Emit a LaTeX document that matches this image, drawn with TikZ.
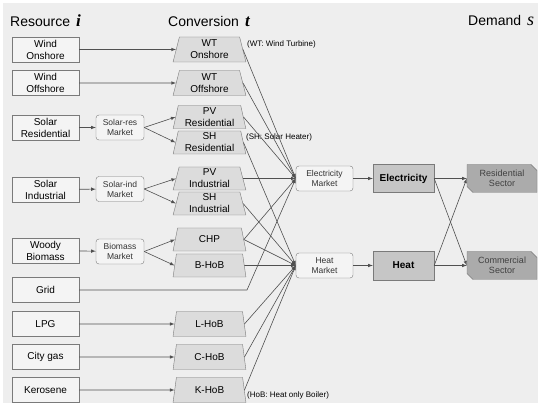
\documentclass[tikz,border=0pt]{standalone}
\usepackage{fontspec}
\setmainfont{Liberation Sans}
\newfontfamily\idxfont{Liberation Serif}
\usetikzlibrary{shapes.geometric, shapes.misc, arrows}

\definecolor{bggray}{HTML}{EEEEEE}
\definecolor{edgegray}{HTML}{7A7A7A}
\definecolor{boxfill}{HTML}{F4F4F4}
\definecolor{convfill}{HTML}{DCDCDC}
\definecolor{carrierfill}{HTML}{C6C6C6}
\definecolor{sectorfill}{HTML}{ABABAB}
\definecolor{linegray}{HTML}{505050}

\tikzstyle{resource} = [rectangle, minimum width=67pt, minimum height=25pt, text centered, align=center, inner sep=0pt, draw=edgegray, fill=boxfill, font=\fontsize{10}{12}\selectfont]
\tikzstyle{market} = [rectangle, rounded corners=3pt, minimum width=48pt, minimum height=25pt, text centered, align=center, inner sep=0pt, draw=edgegray, fill=boxfill, text=black!80, font=\fontsize{8.5}{10}\selectfont]
\tikzstyle{conversion} = [trapezium, trapezium stretches=true, trapezium left angle=78, trapezium right angle=78, minimum width=73pt, minimum height=23pt, text centered, align=center, inner sep=0pt, draw=edgegray, fill=convfill, font=\fontsize{10}{12}\selectfont]
\tikzstyle{carrier} = [rectangle, minimum width=61pt, minimum height=28pt, text centered, draw=edgegray, fill=carrierfill, font=\bfseries\fontsize{10}{12}\selectfont]
\tikzstyle{sector} = [chamfered rectangle, chamfered rectangle corners={north east, south west}, chamfered rectangle xsep=3pt, chamfered rectangle ysep=3pt, minimum width=70pt, minimum height=28pt, inner sep=0pt, text centered, align=center, draw=edgegray, fill=sectorfill, text=black!75, font=\fontsize{9}{10.5}\selectfont]
\tikzstyle{header} = [anchor=base west, inner sep=0pt, font=\fontsize{14}{16}\selectfont]
\tikzstyle{note} = [anchor=west, inner sep=0pt, font=\fontsize{8}{10}\selectfont]
\tikzstyle{arrow} = [draw=linegray, line width=0.6pt, ->, >=latex]

\begin{document}
\begin{tikzpicture}[x=1pt, y=1pt]
    \useasboundingbox (0,0) rectangle (538,403);
    \fill [bggray] (3,0) rectangle (538,400);

    % Headers
    \node (reshead) [header] at (10,376.5) {Resource\hspace{6pt}{\idxfont\itshape\bfseries\fontsize{17}{17}\selectfont i}};
    \node (convhead) [header] at (168,376.5) {Conversion\hspace{6pt}{\idxfont\itshape\bfseries\fontsize{17}{17}\selectfont t}};
    \node (demhead) [header] at (468,377.5) {Demand\hspace{6pt}{\idxfont\itshape\fontsize{18}{18}\selectfont s}};

    % Resources
    \node (windon) [resource] at (45.5,353.5) {Wind\\Onshore};
    \node (windoff) [resource] at (45.5,320) {Wind\\Offshore};
    \node (solarres) [resource] at (45.5,275.5) {Solar\\Residential};
    \node (solarind) [resource] at (45.5,213.5) {Solar\\Industrial};
    \node (woody) [resource] at (45.5,152.5) {Woody\\Biomass};
    \node (grid) [resource] at (45.5,113) {Grid};
    \node (lpg) [resource] at (45.5,79) {LPG};
    \node (citygas) [resource] at (45.5,46) {City gas};
    \node (kerosene) [resource] at (45.5,13) {Kerosene};

    % Resource markets
    \node (solresmkt) [market] at (120,275.5) {Solar-res\\Market};
    \node (solindmkt) [market] at (120,214) {Solar-ind\\Market};
    \node (biomkt) [market] at (120,151.5) {Biomass\\Market};

    % Conversion
    \node (wton) [conversion, minimum height=25pt] at (209.5,353.5) {WT\\Onshore};
    \node (wtoff) [conversion, minimum height=25pt] at (209.5,320) {WT\\Offshore};
    \node (pvres) [conversion] at (209.5,286) {PV\\Residential};
    \node (shres) [conversion] at (209.5,260.5) {SH\\Residential};
    \node (pvind) [conversion] at (209.5,224.5) {PV\\Industrial};
    \node (shind) [conversion] at (209.5,199.5) {SH\\Industrial};
    \node (chp) [conversion] at (209.5,163.5) {CHP};
    \node (bhob) [conversion] at (209.5,137.5) {B-HoB};
    \node (lhob) [conversion, minimum height=25pt] at (209.5,79) {L-HoB};
    \node (chob) [conversion, minimum height=25pt] at (209.5,46) {C-HoB};
    \node (khob) [conversion, minimum height=25pt] at (209.5,13) {K-HoB};
    \coordinate (gridbend) at (247,113);

    % Notes
    \node (wtnote) [note] at (247,358.5) {(WT: Wind Turbine)};
    \node (shnote) [note] at (246,266) {(SH: Solar Heater)};
    \node (hobnote) [note] at (247,8) {(HoB: Heat only Boiler)};

    % Energy markets and carriers
    \node (elecmkt) [market, minimum width=57pt] at (324.5,224.5) {Electricity\\Market};
    \node (heatmkt) [market, minimum width=57pt] at (324.5,137.5) {Heat\\Market};
    \node (elec) [carrier] at (403.5,224.5) {Electricity};
    \node (heat) [carrier, minimum height=29pt] at (403.5,137.5) {Heat};

    % Demand
    \node (ressector) [sector] at (502,224.5) {Residential\\Sector};
    \node (comsector) [sector] at (502,137.5) {Commercial\\Sector};

    % Arrows
    \draw [arrow] (windon) -- (wton);
    \draw [arrow] (windoff) -- (wtoff);
    \draw [arrow] (solarres) -- (solresmkt);
    \draw [arrow] (solarind) -- (solindmkt);
    \draw [arrow] (woody) -- (biomkt);
    \draw [arrow] (lpg) -- (lhob);
    \draw [arrow] (citygas) -- (chob);
    \draw [arrow] (kerosene) -- (khob);
    \draw [arrow] (solresmkt.east) -- (pvres.west);
    \draw [arrow] (solresmkt.east) -- (shres.west);
    \draw [arrow] (solindmkt.east) -- (pvind.west);
    \draw [arrow] (solindmkt.east) -- (shind.west);
    \draw [arrow] (biomkt.east) -- (chp.west);
    \draw [arrow] (biomkt.east) -- (bhob.west);

    \draw [arrow] (wton.east) -- (elecmkt.west);
    \draw [arrow] (wtoff.east) -- (elecmkt.west);
    \draw [arrow] (pvres.east) -- (elecmkt.west);
    \draw [arrow] (pvind.east) -- (elecmkt.west);
    \draw [arrow] (chp.east) -- (elecmkt.west);
    \draw [arrow] (grid.east) -- (gridbend) -- (elecmkt.west);
    \draw [arrow] (shres.east) -- (heatmkt.west);
    \draw [arrow] (shind.east) -- (heatmkt.west);
    \draw [arrow] (chp.east) -- (heatmkt.west);
    \draw [arrow] (bhob.east) -- (heatmkt.west);
    \draw [arrow] (lhob.east) -- (heatmkt.west);
    \draw [arrow] (chob.east) -- (heatmkt.west);
    \draw [arrow] (khob.east) -- (heatmkt.west);

    \draw [arrow] (elecmkt) -- (elec);
    \draw [arrow] (heatmkt) -- (heat);
    \draw [arrow] (elec.east) -- (ressector.west);
    \draw [arrow] (elec.east) -- (comsector.west);
    \draw [arrow] (heat.east) -- (ressector.west);
    \draw [arrow] (heat.east) -- (comsector.west);
\end{tikzpicture}
\end{document}
